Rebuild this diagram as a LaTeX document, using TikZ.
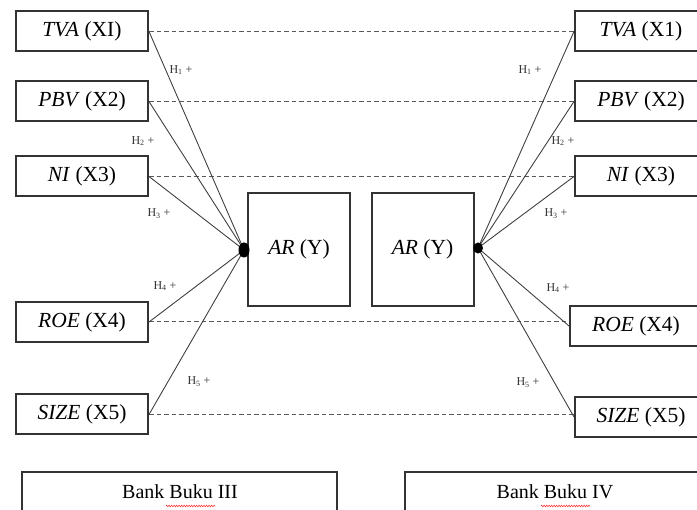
\documentclass[tikz,border=0pt]{standalone}
\usepackage{fontspec}
\setmainfont{Liberation Serif}
\usetikzlibrary{decorations.pathmorphing,shapes.geometric}
\pgfdeclarelayer{bg}
\pgfsetlayers{bg,main}
\begin{document}
\begin{tikzpicture}[x=1pt,y=-1pt,
  box/.style={draw=black!80,line width=2pt,minimum width=132pt,minimum height=40pt,inner sep=0pt,font=\fontsize{21.5}{25}\selectfont},
  arbox/.style={draw=black!80,line width=2pt,minimum width=102pt,minimum height=113pt,inner sep=0pt,font=\fontsize{21.5}{25}\selectfont},
  bankbox/.style={draw=black!80,line width=2pt,minimum width=315pt,minimum height=46pt,inner sep=0pt},
  link/.style={draw=black!75,line width=0.9pt},
  dashline/.style={draw=black!65,line width=1pt,dash pattern=on 4.5pt off 3pt},
  hlab/.style={font=\fontsize{12}{14}\selectfont,text=black!80,inner sep=1pt},
  dotn/.style={ellipse,fill=black,inner sep=0pt,minimum width=11pt,minimum height=15pt}]
\useasboundingbox (0,0) rectangle (697,510);
\begin{scope}
\clip (0,0) rectangle (697,510);
% left boxes
\node[box] (lt) at (82,31.5) {\textit{TVA} (XI)};
\node[box] (lp) at (82,101.5) {\textit{PBV} (X2)};
\node[box] (ln) at (82,176.5) {\textit{NI} (X3)};
\node[box] (lr) at (82,322) {\textit{ROE} (X4)};
\node[box] (ls) at (82,414.5) {\textit{SIZE} (X5)};
% right boxes
\node[box] (rt) at (641,31.5) {\textit{TVA} (X1)};
\node[box] (rp) at (641,101.5) {\textit{PBV} (X2)};
\node[box] (rn) at (641,176.5) {\textit{NI} (X3)};
\node[box] (rr) at (636,326) {\textit{ROE} (X4)};
\node[box] (rs) at (641,417) {\textit{SIZE} (X5)};
% AR boxes
\node[arbox] (la) at (299,249.5) {\textit{AR} (Y)};
\node[arbox] (ra) at (422.5,249.5) {\textit{AR} (Y)};
% dots
\node[dotn] (ld) at (244,250) {};
\node[dotn,minimum width=10pt,minimum height=11pt] (rd) at (478,248) {};
\begin{pgfonlayer}{bg}
% dashed
\draw[dashline] (lt.east) -- (rt.west |- lt.east);
\draw[dashline] (lp.east) -- (rp.west |- lp.east);
\draw[dashline] (ln.east) -- (rn.west |- ln.east);
\draw[dashline] (lr.east) -- (rr.west |- lr.east);
\draw[dashline] (ls.east) -- (rs.west |- ls.east);
% links
\foreach \n in {lt,lp,ln,lr,ls} \draw[link] (\n.east) -- (ld.center);
\foreach \n in {rt,rp,rn,rr,rs} \draw[link] (rd.center) -- (\n.west);
\end{pgfonlayer}
% labels
\node[hlab] (h1l) at (181,70) {H\textsubscript{1} +};
\node[hlab] (h2l) at (143,141) {H\textsubscript{2} +};
\node[hlab] (h3l) at (159,214) {H\textsubscript{3} +};
\node[hlab] (h4l) at (165,286) {H\textsubscript{4} +};
\node[hlab] (h5l) at (199,382) {H\textsubscript{5} +};
\node[hlab] (h1r) at (530,70) {H\textsubscript{1} +};
\node[hlab] (h2r) at (563,141) {H\textsubscript{2} +};
\node[hlab] (h3r) at (556,214) {H\textsubscript{3} +};
\node[hlab] (h4r) at (558,288) {H\textsubscript{4} +};
\node[hlab] (h5r) at (528,383) {H\textsubscript{5} +};
% bank boxes
\node[bankbox] (b3) at (179.5,495) {};
\node[bankbox] (b4) at (562.5,495) {};
\node[font=\fontsize{20}{24}\selectfont,anchor=base] (t3) at (180,499) {Bank Buku III};
\node[font=\fontsize{20}{24}\selectfont,anchor=base] (t4) at (555,499) {Bank Buku IV};
\draw[red!80,line width=0.6pt,decorate,decoration={zigzag,amplitude=0.8pt,segment length=2.5pt}] (166,506) -- (215,506);
\draw[red!80,line width=0.6pt,decorate,decoration={zigzag,amplitude=0.8pt,segment length=2.5pt}] (541,506) -- (590,506);
\end{scope}
\end{tikzpicture}
\end{document}
